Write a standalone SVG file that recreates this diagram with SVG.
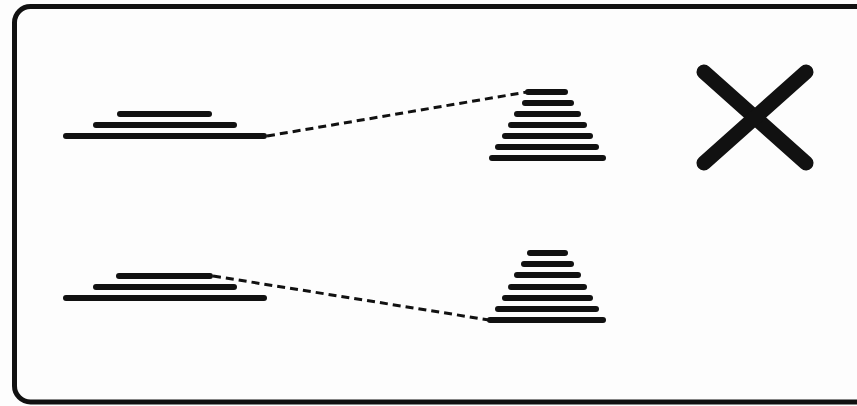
<svg xmlns="http://www.w3.org/2000/svg" width="857" height="406" viewBox="0 0 857 406">
<style>
.bar{stroke:#111;stroke-width:6;stroke-linecap:round;fill:none}
.dash{stroke:#111;stroke-width:3;stroke-dasharray:8 5;fill:none}
.x{stroke:#111;stroke-width:15;stroke-linecap:round;fill:none}
</style>
<rect width="857" height="406" fill="#fdfdfd"/>
<rect x="14.5" y="6.5" width="860" height="395.5" rx="16" fill="none" stroke="#111" stroke-width="5"/>
<g id="connectors">
<line class="dash" x1="267" y1="136" x2="527" y2="92"/>
<line class="dash" x1="213" y1="276" x2="489" y2="320"/>
</g>
<g id="stack-top-left">
<line class="bar" x1="120" y1="114" x2="209" y2="114"/>
<line class="bar" x1="96" y1="125" x2="234" y2="125"/>
<line class="bar" x1="66" y1="136" x2="264" y2="136"/>
</g>
<g id="pyramid-top-right">
<line class="bar" x1="528" y1="92" x2="565" y2="92"/>
<line class="bar" x1="525" y1="103" x2="571" y2="103"/>
<line class="bar" x1="517" y1="114" x2="578" y2="114"/>
<line class="bar" x1="511" y1="125" x2="584" y2="125"/>
<line class="bar" x1="505" y1="136" x2="590" y2="136"/>
<line class="bar" x1="498" y1="147" x2="596" y2="147"/>
<line class="bar" x1="492" y1="158" x2="603" y2="158"/>
</g>
<g id="stack-bottom-left">
<line class="bar" x1="119" y1="276" x2="210" y2="276"/>
<line class="bar" x1="96" y1="287" x2="234" y2="287"/>
<line class="bar" x1="66" y1="298" x2="264" y2="298"/>
</g>
<g id="pyramid-bottom-right">
<line class="bar" x1="530" y1="253" x2="565" y2="253"/>
<line class="bar" x1="524" y1="264" x2="571" y2="264"/>
<line class="bar" x1="517" y1="275" x2="578" y2="275"/>
<line class="bar" x1="511" y1="287" x2="584" y2="287"/>
<line class="bar" x1="505" y1="298" x2="590" y2="298"/>
<line class="bar" x1="498" y1="309" x2="596" y2="309"/>
<line class="bar" x1="490" y1="320" x2="603" y2="320"/>
</g>
<g id="cross">
<line class="x" x1="704" y1="72" x2="806" y2="163"/>
<line class="x" x1="806" y1="72" x2="704" y2="163"/>
</g>
</svg>
